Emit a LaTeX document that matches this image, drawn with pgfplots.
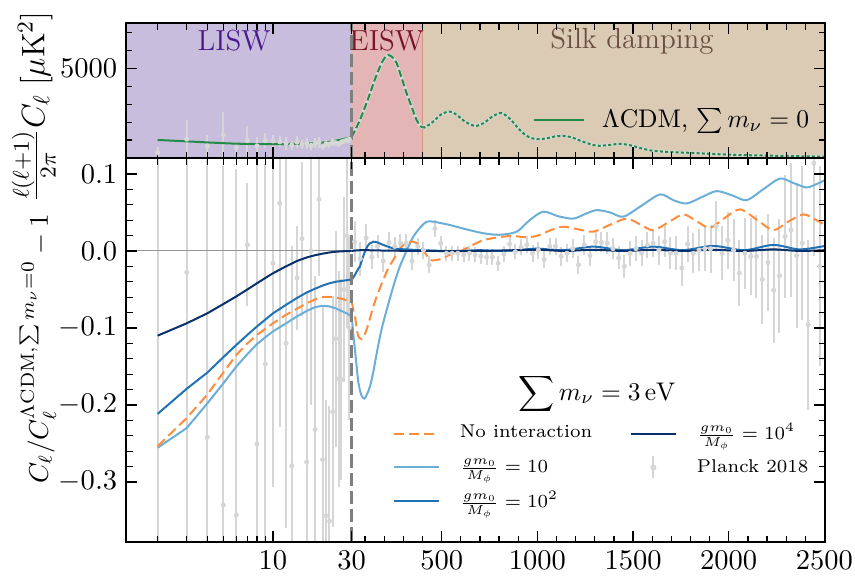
\documentclass[border=0pt]{standalone}
\usepackage{fix-cm}
\usepackage{amsmath}
\usepackage{pgfplots}
\pgfplotsset{compat=1.18}

\definecolor{noint}{HTML}{FD8D3C}
\definecolor{gten}{HTML}{6BAED6}
\definecolor{ghund}{HTML}{2171B5}
\definecolor{gtenk}{HTML}{08306B}
\definecolor{lcdm}{HTML}{238B45}
\definecolor{planck}{HTML}{D6D6D6}
\definecolor{lisw}{HTML}{C9BDDD}
\definecolor{eisw}{HTML}{E4B5B5}
\definecolor{silk}{HTML}{DBCAB4}
\definecolor{liswtxt}{HTML}{4B1A8C}
\definecolor{eiswtxt}{HTML}{7A1526}
\definecolor{silktxt}{HTML}{6A4E40}

% log in ell below 30, linear above
\pgfplotsset{
  hybrid/.style={
    scale only axis, width=279.6pt,
    x coord trafo/.code={\pgfmathparse{##1<=30 ? 165*log10(##1) : 243.73+0.1914*(##1-30)}},
    xmin=1.286, xmax=2503,
    enlargelimits=false,
    axis on top,
    axis line style={line width=0.6pt},
    every tick/.style={black, line width=0.5pt},
    major tick length=4.4pt, minor tick length=2.6pt,
    tick align=inside,
    xtick={10,30,500,1000,1500,2000,2500},
    minor xtick={2,3,4,5,6,7,8,9,100,200,300,400,600,700,800,900,1100,1200,1300,1400,1600,1700,1800,1900,2100,2200,2300,2400},
    tick label style={font=\fontsize{11.4}{13}\selectfont},
  },
}

% low-ell Planck points (top panel, D_ell and error)
\pgfplotstableread{
l D e
2 300 330
3 1050 1050
4 660 620
5 1300 1250
6 580 320
7 975 800
8 680 500
9 970 420
10 950 330
11 900 300
12 820 350
13 720 250
14 880 330
15 760 260
16 830 300
17 700 230
18 820 280
19 880 300
20 640 220
21 800 200
22 780 220
23 900 230
24 850 200
25 780 170
26 900 200
27 950 180
28 1000 180
29 1050 200
}\planckTT

\pgfplotstableread{
l D
2 1006
3 930
4 870
6 800
10 770
15 800
20 860
25 1000
30 1170
}\lcdmlow

\pgfplotstableread{
l D
30 1170
50 1600
73 2120
100 2850
126 3610
150 4350
178 5100
200 5550
221 5750
245 5600
265 5290
290 4500
317 3610
345 2800
369 2120
390 1780
400 1720
}\lcdmmid

\pgfplotstableread{
l D
400 1720
410 1700
440 1900
465 2120
500 2450
543 2590
580 2400
620 2050
674 1790
720 1950
770 2350
814 2500
860 2150
909 1560
950 1200
997 1050
1050 1100
1090 1200
1135 1230
1180 1150
1240 900
1310 690
1370 720
1432 790
1490 700
1550 520
1606 400
1700 330
1780 296
1850 260
1954 207
2050 170
2128 151
2303 112
2500 73
}\lcdmhigh

% residual curves
\pgfplotstableread{
l tenk hund noint ten
2 -0.110 -0.2116 -0.2535 -0.2556
3 -0.094 -0.179 -0.217 -0.230
4 -0.081 -0.158 -0.1865 -0.198
5 -0.069 -0.138 -0.158 -0.172
6 -0.059 -0.122 -0.135 -0.150
7 -0.050 -0.109 -0.120 -0.134
8 -0.042 -0.098 -0.109 -0.121
9 -0.035 -0.089 -0.101 -0.112
10 -0.029 -0.081 -0.094 -0.1045
12 -0.020 -0.070 -0.083 -0.094
14 -0.013 -0.061 -0.075 -0.085
16 -0.0085 -0.054 -0.068 -0.078
18 -0.0055 -0.049 -0.063 -0.073
20 -0.0035 -0.045 -0.060 -0.0712
22 -0.002 -0.042 -0.0595 -0.072
24 -0.001 -0.040 -0.0605 -0.0745
26 -0.0005 -0.039 -0.062 -0.078
28 -0.0002 -0.038 -0.064 -0.081
30 0.000 -0.037 -0.066 -0.085
}\reslow

\pgfplotstableread{
l v
30 -0.085
40 -0.112
47 -0.128
56 -0.150
65 -0.171
80 -0.187
96 -0.1917
110 -0.186
126 -0.1757
143 -0.157
161 -0.1325
185 -0.103
213 -0.0764
250 -0.044
282 -0.020
320 0.002
352 0.0185
390 0.031
422 0.038
456 0.038
500 0.036
543 0.0337
630 0.028
718 0.023
800 0.021
892 0.025
960 0.040
1031 0.051
1110 0.045
1188 0.042
1250 0.048
1310 0.053
1380 0.050
1449 0.0445
1540 0.058
1641 0.0734
1710 0.066
1780 0.0616
1860 0.070
1937 0.0777
2020 0.072
2094 0.066
2180 0.080
2268 0.094
2340 0.088
2407 0.0825
2460 0.087
2503 0.092
}\tenhigh

\pgfplotstableread{
l v
30 -0.066
40 -0.078
47 -0.085
56 -0.100
65 -0.111
82 -0.1145
95 -0.110
108 -0.102
125 -0.088
143 -0.072
170 -0.053
195 -0.0376
220 -0.023
247 -0.0117
275 0.000
300 0.0078
330 0.0115
352 0.012
375 0.009
396 0.0035
420 -0.005
439 -0.0117
465 -0.012
491 -0.0108
543 -0.005
613 0.0013
718 0.014
857 0.0194
930 0.018
996 0.0194
1070 0.027
1135 0.0315
1215 0.028
1292 0.025
1380 0.034
1467 0.042
1540 0.034
1606 0.027
1690 0.038
1763 0.0475
1830 0.039
1902 0.030
1980 0.043
2059 0.054
2150 0.040
2233 0.027
2310 0.038
2390 0.0475
2450 0.041
2503 0.0337
}\nointhigh

\pgfplotstableread{
l v
30 -0.0376
47 -0.031
60 -0.025
73 -0.020
86 -0.010
99 -0.001
112 0.006
126 0.010
143 0.012
165 0.011
195 0.0078
247 0.0035
310 0.002
400 0.001
500 0.000
600 0.000
700 0.001
800 0.000
900 0.001
996 0.003
1140 0.001
1292 0.0056
1450 0.001
1605 0.0056
1760 0.001
1919 0.0065
2080 0.001
2233 0.0078
2370 0.002
2503 0.0065
}\hundhigh

\pgfplotstableread{
l v
30 0.000
60 0.0008
100 0.001
200 0.0005
400 0.000
700 0.000
996 0.0015
1140 0.000
1292 0.0015
1450 0.000
1605 0.0015
1760 0.000
1919 0.0015
2080 0.000
2233 0.002
2370 0.000
2503 0.001
}\tenkhigh

% Planck 2018 residuals
\pgfplotstableread{
l v e
2 -0.60 0.90
3 -0.028 0.60
4 -0.242 0.50
5 -0.33 0.44
6 -0.343 0.45
7 0.008 0.08
8 -0.251 0.37
9 -0.147 0.26
10 -0.016 0.29
11 0.062 0.29
12 -0.12 0.24
13 -0.279 0.285
14 -0.035 0.068
15 0.016 0.10
16 -0.274 0.22
17 0.0 0.20
18 -0.232 0.20
19 0.067 0.10
20 -0.271 0.20
21 -0.344 0.15
22 -0.351 0.15
23 -0.209 0.15
24 -0.114 0.14
25 -0.166 0.14
26 -0.167 0.13
27 -0.05 0.12
28 0.02 0.12
29 -0.10 0.12
45 0.012 0.027
75 -0.010 0.022
105 0.017 0.018
135 -0.008 0.016
165 0.006 0.015
195 -0.013 0.014
225 0.011 0.013
255 0.006 0.012
285 0.010 0.012
315 0.010 0.012
345 -0.013 0.012
375 0.006 0.011
405 0.001 0.011
435 -0.018 0.011
465 0.029 0.011
495 0.010 0.010
525 -0.003 0.010
555 -0.003 0.010
585 -0.003 0.010
615 -0.005 0.010
645 -0.003 0.010
675 -0.005 0.010
705 -0.007 0.010
735 -0.008 0.010
765 -0.008 0.010
795 -0.016 0.010
825 -0.004 0.010
855 0.009 0.010
885 -0.001 0.010
915 0.005 0.010
945 0.008 0.011
975 -0.003 0.011
1005 0.001 0.011
1035 -0.011 0.011
1065 0.006 0.011
1095 0.006 0.011
1125 -0.007 0.012
1155 -0.003 0.012
1185 0.003 0.012
1215 -0.018 0.012
1245 0.008 0.013
1275 -0.006 0.013
1305 0.012 0.013
1335 0.011 0.013
1365 0.010 0.014
1395 0.003 0.014
1425 -0.009 0.015
1455 -0.020 0.015
1485 -0.003 0.016
1515 0.003 0.016
1545 -0.003 0.017
1575 0.008 0.017
1605 0.010 0.018
1635 0.001 0.019
1665 0.012 0.020
1695 -0.003 0.021
1725 -0.003 0.022
1755 -0.022 0.023
1785 0.009 0.024
1815 -0.003 0.026
1845 0.001 0.027
1875 0.003 0.029
1905 0.003 0.031
1935 0.032 0.033
1965 -0.003 0.035
1995 0.014 0.037
2025 0.001 0.040
2055 -0.029 0.043
2085 -0.003 0.046
2115 -0.007 0.050
2145 -0.007 0.054
2175 -0.037 0.058
2205 -0.015 0.063
2235 -0.051 0.068
2265 -0.032 0.074
2295 0.019 0.080
2325 0.027 0.087
2355 -0.006 0.094
2385 0.010 0.100
2415 -0.096 0.110
2445 0.114 0.120
2475 -0.020 0.130
}\planckres

\begin{document}
\begin{tikzpicture}
\begin{axis}[hybrid, name=top, height=54pt,
  ymin=0, ymax=7530,
  ytick={5000}, yticklabels={$5000$},
  minor ytick={1000,2000,3000,4000,6000,7000},
  xticklabels={},
  ylabel={$\frac{\ell(\ell+1)}{2\pi}C_\ell\;[\mu\mathrm{K}^2]$},
  ylabel style={at={(rel axis cs:-0.132,0.38)}, anchor=center, font=\fontsize{13}{15}\selectfont},
  legend image code/.code={\draw[#1] (0pt,0pt) -- (20pt,0pt);},
  legend style={at={(rel axis cs:0.581,0.28)}, anchor=west, draw=none, fill=none, inner sep=0pt,
    font=\fontsize{10.2}{12}\selectfont,
    /tikz/every odd column/.append style={column sep=5pt}},
  legend cell align=left,
]
  \addplot[fill=lisw, draw=none, forget plot] coordinates {(1.286,7600) (30,7600)} \closedcycle;
  \addplot[fill=eisw, draw=none, forget plot] coordinates {(30,7600) (400,7600)} \closedcycle;
  \addplot[fill=silk, draw=none, forget plot] coordinates {(400,7600) (2503,7600)} \closedcycle;
  \addplot[color={rgb,255:red,214;green,150;blue,126}, line width=0.4pt, forget plot] coordinates {(400,0) (400,7600)};

  \addplot[planck, only marks, mark=*, mark size=0.8pt, forget plot,
    error bars/.cd, y dir=both, y explicit, error mark=none,
    error bar style={planck, line width=0.8pt}] table[x=l, y=D, y error=e] {\planckTT};
  \addplot[planck, line width=1.4pt, forget plot] table[x=l, y=D] {\lcdmmid};
  \addplot[planck, line width=1.4pt, forget plot] table[x=l, y=D] {\lcdmhigh};

  \addplot[lcdm, line width=0.8pt, smooth, forget plot] table[x=l, y=D] {\lcdmlow};
  \addplot[lcdm, line width=0.8pt, smooth, dash pattern=on 2.8pt off 1.2pt, forget plot] table[x=l, y=D] {\lcdmmid};
  \addplot[lcdm, line width=0.8pt, smooth, dash pattern=on 1.2pt off 0.9pt, forget plot] table[x=l, y=D] {\lcdmhigh};

  \addplot[color={rgb,255:red,127;green,127;blue,127}, line width=1pt, dash pattern=on 5.3pt off 2pt, forget plot] coordinates {(30,0) (30,7600)};

  \node[font=\fontsize{11.6}{14}\selectfont, text=liswtxt] at (rel axis cs:0.1545,0.867) {LISW};
  \node[font=\fontsize{11.6}{14}\selectfont, text=eiswtxt] at (rel axis cs:0.373,0.867) {EISW};
  \node[font=\fontsize{11.6}{14}\selectfont, text=silktxt] at (rel axis cs:0.724,0.867) {Silk damping};

  \addlegendimage{lcdm, line width=0.8pt}
  \addlegendentry{$\Lambda$CDM, $\sum m_\nu=0$}
\end{axis}

\begin{axis}[hybrid, name=bot, height=153.6pt,
  at={(top.south west)}, anchor=north west,
  ymin=-0.378, ymax=0.1207,
  ytick={-0.3,-0.2,-0.1,0,0.1},
  yticklabels={$-0.3$,$-0.2$,$-0.1$,$0.0$,$0.1$},
  minor y tick num=4,
  xticklabels={$10$,$30$,$500$,$1000$,$1500$,$2000$,$2500$},
  ylabel={$C_\ell/C_\ell^{\Lambda\mathrm{CDM},\sum m_\nu=0}-1$},
  ylabel style={at={(rel axis cs:-0.126,0.503)}, anchor=center, font=\fontsize{10.8}{13}\selectfont},
  legend image code/.code={\draw[#1] (0pt,0pt) -- (18pt,0pt);},
  legend columns=2,
  legend cell align=left,
  legend style={at={(rel axis cs:0.381,0.323)}, anchor=north west, draw=none, fill=none, inner sep=0pt,
    font=\fontsize{7.4}{9}\selectfont, row sep=2pt,
    /tikz/every odd column/.append style={column sep=6pt},
    /tikz/every even column/.append style={column sep=13pt}},
]
  \addplot[planck, only marks, mark=*, mark size=0.8pt, forget plot,
    error bars/.cd, y dir=both, y explicit, error mark=none,
    error bar style={planck, line width=0.8pt}] table[x=l, y=v, y error=e] {\planckres};
  \addplot[color={rgb,255:red,150;green,150;blue,150}, line width=0.4pt, forget plot] coordinates {(1.286,0) (2503,0)};

  \addplot[gten, line width=0.8pt, forget plot] table[x=l, y=ten] {\reslow};
  \addplot[gten, line width=0.8pt, smooth, forget plot] table[x=l, y=v] {\tenhigh};
  \addplot[noint, line width=0.8pt, dash pattern=on 4pt off 2pt, forget plot] table[x=l, y=noint] {\reslow};
  \addplot[noint, line width=0.8pt, dash pattern=on 4pt off 2pt, smooth, forget plot] table[x=l, y=v] {\nointhigh};
  \addplot[ghund, line width=0.8pt, forget plot] table[x=l, y=hund] {\reslow};
  \addplot[ghund, line width=0.8pt, smooth, forget plot] table[x=l, y=v] {\hundhigh};
  \addplot[gtenk, line width=0.8pt, forget plot] table[x=l, y=tenk] {\reslow};
  \addplot[gtenk, line width=0.8pt, smooth, forget plot] table[x=l, y=v] {\tenkhigh};

  \addplot[color={rgb,255:red,127;green,127;blue,127}, line width=1pt, dash pattern=on 5.3pt off 2pt, forget plot] coordinates {(30,-0.4) (30,0.13)};

  \node[font=\fontsize{10.2}{12}\selectfont] at (rel axis cs:0.674,0.386) {$\displaystyle\sum m_\nu = 3\,\mathrm{eV}$};

  \addlegendimage{noint, line width=0.8pt, dash pattern=on 4pt off 2pt}
  \addlegendentry{No interaction}
  \addlegendimage{gtenk, line width=0.8pt}
  \addlegendentry{$\frac{gm_0}{M_\phi}=10^4$}
  \addlegendimage{gten, line width=0.8pt}
  \addlegendentry{$\frac{gm_0}{M_\phi}=10$}
  \addlegendimage{legend image code/.code={\draw[planck, line width=0.8pt] (9pt,-4.4pt) -- (9pt,4.4pt); \fill[planck] (9pt,0pt) circle (1pt);}}
  \addlegendentry{Planck 2018}
  \addlegendimage{ghund, line width=0.8pt}
  \addlegendentry{$\frac{gm_0}{M_\phi}=10^2$}
\end{axis}

\pgfresetboundingbox
\path ([shift={(-50.4pt,-17.2pt)}]bot.south west) rectangle ([shift={(291.6pt,216.8pt)}]bot.south west);
\end{tikzpicture}
\end{document}
